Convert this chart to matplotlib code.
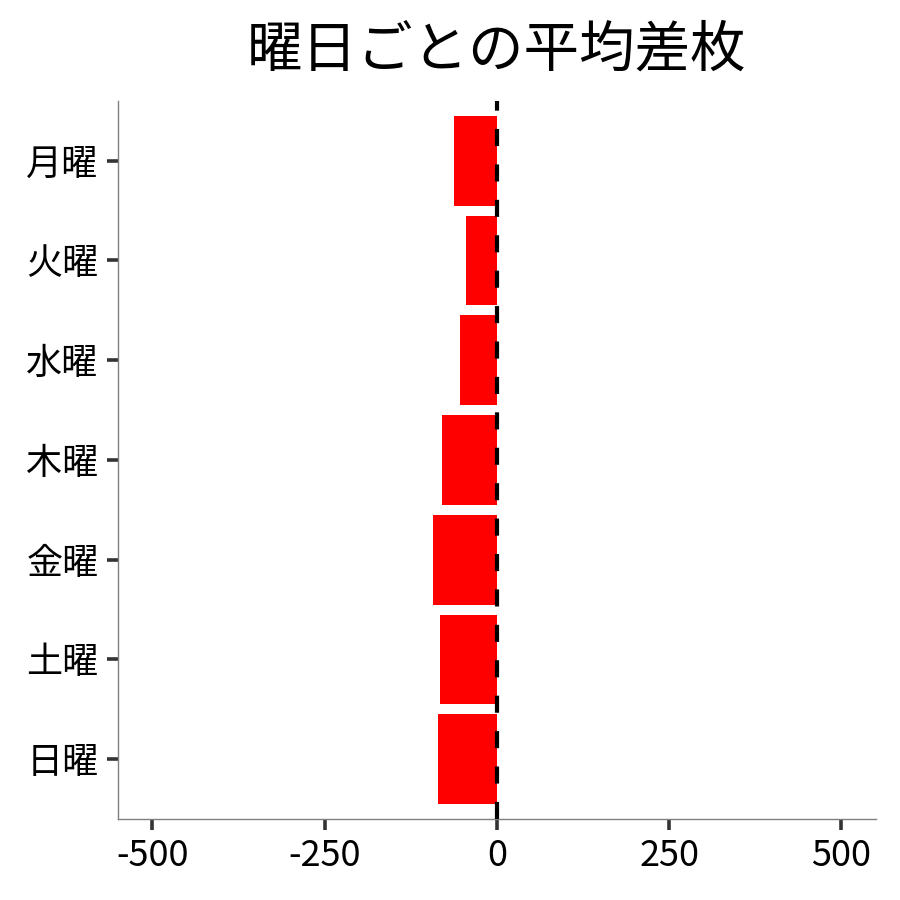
import numpy as np
import matplotlib
matplotlib.use('Agg')
import matplotlib.pyplot as plt

plt.rcParams['font.family'] = ['Noto Sans CJK JP', 'DejaVu Sans']

# 曜日ごとの平均差枚 (読み取り値)
days = ['月曜', '火曜', '水曜', '木曜', '金曜', '土曜', '日曜']
avg_diff = [-62, -44, -54, -80, -93, -83, -86]
x_ticks = [-500, -250, 0, 250, 500]

fig = plt.figure(figsize=(9, 9), dpi=100)
ax = fig.add_axes([0.131, 0.09, 0.842, 0.798])

ypos = np.arange(len(days))[::-1]
ax.barh(ypos, avg_diff, height=0.9, color='#ff0000', zorder=2)
ax.axvline(0, color='black', linewidth=3.0, linestyle=(0, (4.1, 4.4)), zorder=3)

ax.set_xlim(-550, 550)
ax.set_ylim(-0.6, len(days) - 0.4)
ax.set_xticks(x_ticks)
ax.set_xticklabels([str(v) for v in x_ticks])
ax.set_yticks(ypos)
ax.set_yticklabels(days)

for s in ['top', 'right']:
	ax.spines[s].set_visible(False)
for s in ['left', 'bottom']:
	ax.spines[s].set_color('#808080')
	ax.spines[s].set_linewidth(1.0)

ax.tick_params(axis='both', length=8, width=2.6, color='#333333', labelsize=26, labelcolor='black', pad=6)

ax.set_title('曜日ごとの平均差枚', fontsize=40, pad=25)

fig.savefig('out.png', dpi=100)
